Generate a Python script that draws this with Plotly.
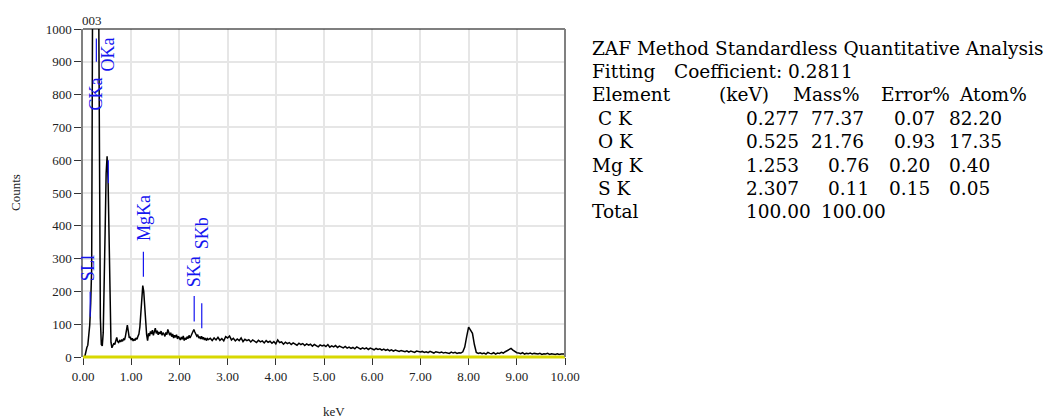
import plotly.graph_objects as go

# ---------------- data ----------------
# EDS spectrum: channel energies (keV) and counts
COUNTS_A = [  # 0.00 .. 2.60 keV, 0.02 keV channels
    0, 0, 3, 24, 29, 36, 62, 98, 165, 270,
    1150, 2100, 2800, 3003, 2750, 2000, 1250, 480, 120, 38,
    34, 75, 190, 390, 560, 612, 540, 350, 150, 45,
    28, 33, 42, 38, 52, 60, 47, 44, 50, 46,
    53, 48, 55, 52, 63, 80, 97, 78, 58, 62,
    52, 57, 49, 55, 50, 58, 54, 63, 70, 92,
    140, 190, 218, 200, 150, 95, 68, 50, 72, 64,
    78, 70, 82, 66, 75, 88, 72, 80, 68, 76,
    70, 79, 66, 74, 70, 63, 75, 68, 84, 72,
    66, 74, 62, 70, 58, 66, 60, 68, 55, 63,
    58, 52, 61, 54, 64, 50, 58, 53, 62, 56,
    66, 58, 64, 72, 80, 84, 76, 70, 64, 68,
    58, 62, 55, 63, 54, 60, 52, 58, 50, 56,
    53,
]
COUNTS_B = [  # 2.64 .. 10.00 keV, 0.04 keV channels
    57, 50, 58, 52, 60, 51, 56, 49, 62, 58,
    64, 52, 57, 49, 55, 50, 58, 47, 54, 50,
    53, 46, 52, 48, 44, 51, 46, 49, 43, 50,
    45, 48, 42, 47, 40, 52, 44, 46, 39, 45,
    41, 44, 38, 43, 40, 36, 42, 38, 41, 35,
    40, 36, 39, 33, 38, 35, 31, 37, 34, 36,
    32, 38, 30, 34, 31, 35, 29, 33, 30, 28,
    32, 27, 30, 26, 29, 25, 31, 27, 24, 28,
    25, 28, 23, 27, 24, 22, 26, 23, 25, 21,
    24, 20, 23, 19, 22, 18, 21, 19, 17, 20,
    18, 16, 19, 15, 18, 17, 14, 18, 16, 15,
    17, 14, 16, 13, 17, 15, 12, 16, 14, 13,
    15, 12, 14, 13, 11, 15, 12, 14, 11, 13,
    12, 16, 30, 62, 91, 82, 72, 38, 14, 11,
    13, 10, 12, 9, 14, 11, 10, 13, 9, 12,
    11, 14, 12, 16, 20, 24, 26, 21, 16, 13,
    12, 10, 13, 9, 11, 10, 12, 9, 11, 10,
    9, 11, 8, 10, 9, 11, 8, 10, 9, 8,
    10, 8, 9, 8, 9,
]
START_A, STEP_A = 0.0, 0.02
START_B, STEP_B = 2.64, 0.04

X_TICKS = [0, 1, 2, 3, 4, 5, 6, 7, 8, 9, 10]
X_TICK_LABELS = ["0.00", "1.00", "2.00", "3.00", "4.00", "5.00",
                 "6.00", "7.00", "8.00", "9.00", "10.00"]
Y_TICKS = [0, 100, 200, 300, 400, 500, 600, 700, 800, 900, 1000]

LINE_NAMES = ["SLl", "CKa", "OKa", "MgKa", "SKa", "SKb"]
LINE_KEV = [0.149, 0.277, 0.525, 1.253, 2.307, 2.464]
MARK_LOW = [123, 900, 530, 245, 108, 88]
MARK_HIGH = [199, 971, 600, 321, 186, 164]

TABLE_TITLE = "ZAF Method Standardless Quantitative Analysis"
FIT_LABEL = "Fitting"
FIT_VALUE = "Coefficient: 0.2811"
HEADERS = ["Element", "(keV)", "Mass%", "Error%", "Atom%"]
ELEMENTS = ["C K", "O K", "Mg K", "S K"]
KEV = ["0.277", "0.525", "1.253", "2.307"]
MASS = ["77.37", "21.76", "0.76", "0.11"]
ERROR = ["0.07", "0.93", "0.20", "0.15"]
ATOM = ["82.20", "17.35", "0.40", "0.05"]
TOTAL_LABEL = "Total"
TOTAL = ["100.00", "100.00"]
CLIPPED_LABEL = "003"

# ---------------- build ----------------
x = [round(START_A + i * STEP_A, 4) for i in range(len(COUNTS_A))]
x += [round(START_B + i * STEP_B, 4) for i in range(len(COUNTS_B))]
y = COUNTS_A + COUNTS_B

W, H = 1060, 418
L, R, T, B = 83, 565, 29, 357  # plot area in pixels
FONT = "Liberation Serif, Times New Roman, serif"
TABLE_FONT = "DejaVu Serif, Liberation Serif, serif"


def px(xp):
    return (xp - L) / (R - L)


def py(yp):
    return (B - yp) / (B - T)


fig = go.Figure()
fig.add_trace(go.Scatter(x=x, y=y, mode="lines",
                         line=dict(color="black", width=1.5),
                         hoverinfo="skip", showlegend=False))

shapes = []
# yellow baseline, top black border, right grey border
shapes.append(dict(type="line", xref="paper", yref="paper", x0=0, x1=1, y0=0, y1=0,
                   line=dict(color="#d8d800", width=3), layer="above"))
shapes.append(dict(type="line", xref="paper", yref="paper", x0=0, x1=1, y0=1, y1=1,
                   line=dict(color="black", width=1.2), layer="above"))
shapes.append(dict(type="line", xref="paper", yref="paper", x0=1, x1=1, y0=0, y1=1,
                   line=dict(color="#808080", width=2), layer="above"))

annotations = []
label_pos = {  # label x (keV), y (counts)
    "SLl": (0.118, 270), "CKa": (0.276, 801), "OKa": (0.524, 923),
    "MgKa": (1.255, 425), "SKa": (2.302, 261), "SKb": (2.460, 376),
}
for name, e, lo, hi in zip(LINE_NAMES, LINE_KEV, MARK_LOW, MARK_HIGH):
    shapes.append(dict(type="line", xref="x", yref="y", x0=e, x1=e, y0=lo, y1=hi,
                       line=dict(color="#1515f0", width=1.2), layer="above"))
    lx, ly = label_pos[name]
    annotations.append(dict(x=lx, y=ly, xref="x", yref="y", text=name,
                            textangle=-90, showarrow=False,
                            xanchor="center", yanchor="middle",
                            font=dict(family=FONT, size=18, color="#1515f0")))

annotations.append(dict(x=0.19, y=py(20), xref="x", yref="paper", text=CLIPPED_LABEL,
                        showarrow=False, xanchor="center", yanchor="middle",
                        font=dict(family=FONT, size=13, color="#222")))
annotations.append(dict(x=px(15), y=py(193), xref="paper", yref="paper", text="Counts",
                        textangle=-90, showarrow=False, xanchor="center", yanchor="middle",
                        font=dict(family=FONT, size=13, color="#222")))
annotations.append(dict(x=px(334), y=py(411), xref="paper", yref="paper", text="keV",
                        showarrow=False, xanchor="center", yanchor="middle",
                        font=dict(family=FONT, size=13, color="#222")))


def cell(text, xl, yc):
    annotations.append(dict(x=px(xl), y=py(yc), xref="paper", yref="paper", text=text,
                            showarrow=False, xanchor="left", yanchor="middle",
                            borderpad=0,
                            font=dict(family=TABLE_FONT, size=18.5, color="black")))


rows_y = [48, 71.4, 94.8, 118.2, 141.6, 165, 188.4, 211.8]
cell(TABLE_TITLE, 591, rows_y[0])
cell(FIT_LABEL, 591, rows_y[1])
cell(FIT_VALUE, 673, rows_y[1])
for txt, xl in zip(HEADERS, [591, 718, 792, 880, 958]):
    cell(txt, xl, rows_y[2])
el_x = [597, 597, 591, 597]
mass_x = [810, 810, 827, 827]
err_x = [893, 893, 888, 888]
for i in range(4):
    yc = rows_y[3 + i]
    cell(ELEMENTS[i], el_x[i], yc)
    cell(KEV[i], 745, yc)
    cell(MASS[i], mass_x[i], yc)
    cell(ERROR[i], err_x[i], yc)
    cell(ATOM[i], 948, yc)
cell(TOTAL_LABEL, 591, rows_y[7])
cell(TOTAL[0], 745, rows_y[7])
cell(TOTAL[1], 820, rows_y[7])

fig.update_layout(
    width=W, height=H,
    margin=dict(l=L, r=W - R, t=T, b=H - B, pad=0),
    paper_bgcolor="white", plot_bgcolor="white",
    font=dict(family=FONT, size=13, color="#222"),
    shapes=shapes, annotations=annotations,
    showlegend=False,
)
fig.update_xaxes(range=[0, 10], tickvals=X_TICKS, ticktext=X_TICK_LABELS,
                 showgrid=True, gridcolor="#e6e6e6", gridwidth=1.5,
                 zeroline=False, showline=False,
                 ticks="outside", ticklen=7, tickwidth=1.2, tickcolor="#333",
                 tickfont=dict(family=FONT, size=13, color="#222"))
fig.update_yaxes(range=[0, 1000], tickvals=Y_TICKS,
                 showgrid=True, gridcolor="#e6e6e6", gridwidth=1.5,
                 zeroline=False, showline=True, linecolor="#808080", linewidth=1.5,
                 ticks="outside", ticklen=7, tickwidth=1.2, tickcolor="#333",
                 tickfont=dict(family=FONT, size=13, color="#222"))

fig.write_html("out.html")
